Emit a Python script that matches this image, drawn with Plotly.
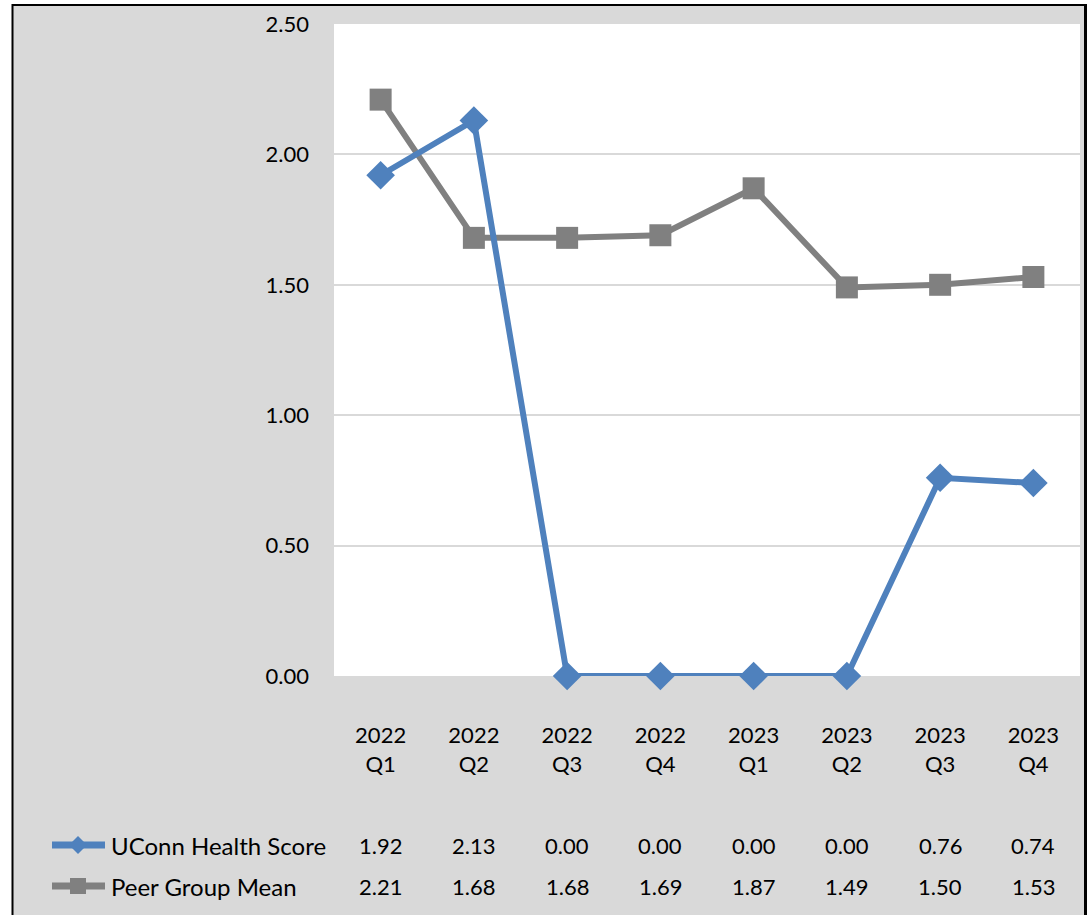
import plotly.graph_objects as go

categories = ["2022<br>Q1", "2022<br>Q2", "2022<br>Q3", "2022<br>Q4",
              "2023<br>Q1", "2023<br>Q2", "2023<br>Q3", "2023<br>Q4"]
uconn_name = "UConn Health Score"
peer_name = "Peer Group Mean"
uconn_values = [1.92, 2.13, 0.00, 0.00, 0.00, 0.00, 0.76, 0.74]
peer_values = [2.21, 1.68, 1.68, 1.69, 1.87, 1.49, 1.50, 1.53]
y_ticks = [0, 0.5, 1.0, 1.5, 2.0, 2.5]

BLUE = "#4f81bd"
GRAY = "#808080"
BG = "#d9d9d9"
FONT = "Lato"

W, H = 1090, 915
L, R, T, B = 334, 1080, 24, 676  # plot area in pixels


def px(x):
    return (x - L) / (R - L)


def py(y):
    return (B - y) / (B - T)


fig = go.Figure()
fig.add_trace(go.Scatter(
    x=list(range(len(categories))), y=peer_values, name=peer_name,
    mode="lines+markers", line=dict(color=GRAY, width=6),
    marker=dict(symbol="square", size=22, color=GRAY),
    cliponaxis=False, showlegend=False))
fig.add_trace(go.Scatter(
    x=list(range(len(categories))), y=uconn_values, name=uconn_name,
    mode="lines+markers", line=dict(color=BLUE, width=6),
    marker=dict(symbol="diamond", size=22, color=BLUE),
    cliponaxis=False, showlegend=False))

shapes = []
annotations = []

# Frame: white outside, black border lines
shapes += [
    dict(type="rect", xref="paper", yref="paper", x0=px(0), x1=px(12), y0=py(H), y1=py(0),
         fillcolor="white", line_width=0, layer="above"),
    dict(type="rect", xref="paper", yref="paper", x0=px(0), x1=px(W), y0=py(5), y1=py(0),
         fillcolor="white", line_width=0, layer="above"),
    dict(type="rect", xref="paper", yref="paper", x0=px(1087), x1=px(W), y0=py(H), y1=py(0),
         fillcolor="white", line_width=0, layer="above"),
    dict(type="line", xref="paper", yref="paper", x0=px(12.5), x1=px(12.5), y0=py(H), y1=py(4),
         line=dict(color="black", width=2)),
    dict(type="line", xref="paper", yref="paper", x0=px(12), x1=px(1087), y0=py(5), y1=py(5),
         line=dict(color="black", width=2)),
    dict(type="line", xref="paper", yref="paper", x0=px(1085.5), x1=px(1085.5), y0=py(H), y1=py(4),
         line=dict(color="black", width=3)),
]

# Data table rows with legend keys
rows = [(uconn_name, uconn_values, BLUE, "diamond", 845),
        (peer_name, peer_values, GRAY, "square", 886)]
for name, vals, color, sym, ypix in rows:
    shapes.append(dict(type="line", xref="paper", yref="paper",
                       x0=px(52), x1=px(105), y0=py(ypix), y1=py(ypix),
                       line=dict(color=color, width=7)))
    cx = 78
    if sym == "diamond":
        r = 9
        path = (f"M {px(cx - r)} {py(ypix)} L {px(cx)} {py(ypix - r)} "
                f"L {px(cx + r)} {py(ypix)} L {px(cx)} {py(ypix + r)} Z")
        shapes.append(dict(type="path", xref="paper", yref="paper", path=path,
                           fillcolor=color, line_width=0))
    else:
        r = 8
        shapes.append(dict(type="rect", xref="paper", yref="paper",
                           x0=px(cx - r), x1=px(cx + r), y0=py(ypix + r), y1=py(ypix - r),
                           fillcolor=color, line_width=0))
    annotations.append(dict(text=name, xref="paper", yref="paper", x=px(109), y=py(ypix),
                            xanchor="left", yanchor="middle", showarrow=False,
                            font=dict(family=FONT, size=24, color="black")))
    for i, v in enumerate(vals):
        annotations.append(dict(text=f"{v:.2f}", xref="x", yref="paper", x=i, y=py(ypix),
                                xanchor="center", yanchor="middle", showarrow=False,
                                font=dict(family=FONT, size=22, color="black")))

fig.update_layout(
    width=W, height=H,
    margin=dict(l=L, r=W - R, t=T, b=H - B, pad=0),
    paper_bgcolor=BG, plot_bgcolor="white",
    font=dict(family=FONT, size=22, color="black"),
    showlegend=False,
    shapes=shapes, annotations=annotations,
    xaxis=dict(tickmode="array", tickvals=list(range(len(categories))), ticktext=categories,
               range=[-0.5, len(categories) - 0.5], showgrid=False, zeroline=False,
               showline=False, ticks="", ticklabelstandoff=44, fixedrange=True),
    yaxis=dict(range=[0, 2.5], tickvals=y_ticks, tickformat=".2f", showgrid=True,
               gridcolor=BG, gridwidth=1.5, zeroline=False, showline=False, ticks="",
               ticklabelstandoff=24, fixedrange=True),
)

fig.write_html("out.html")
